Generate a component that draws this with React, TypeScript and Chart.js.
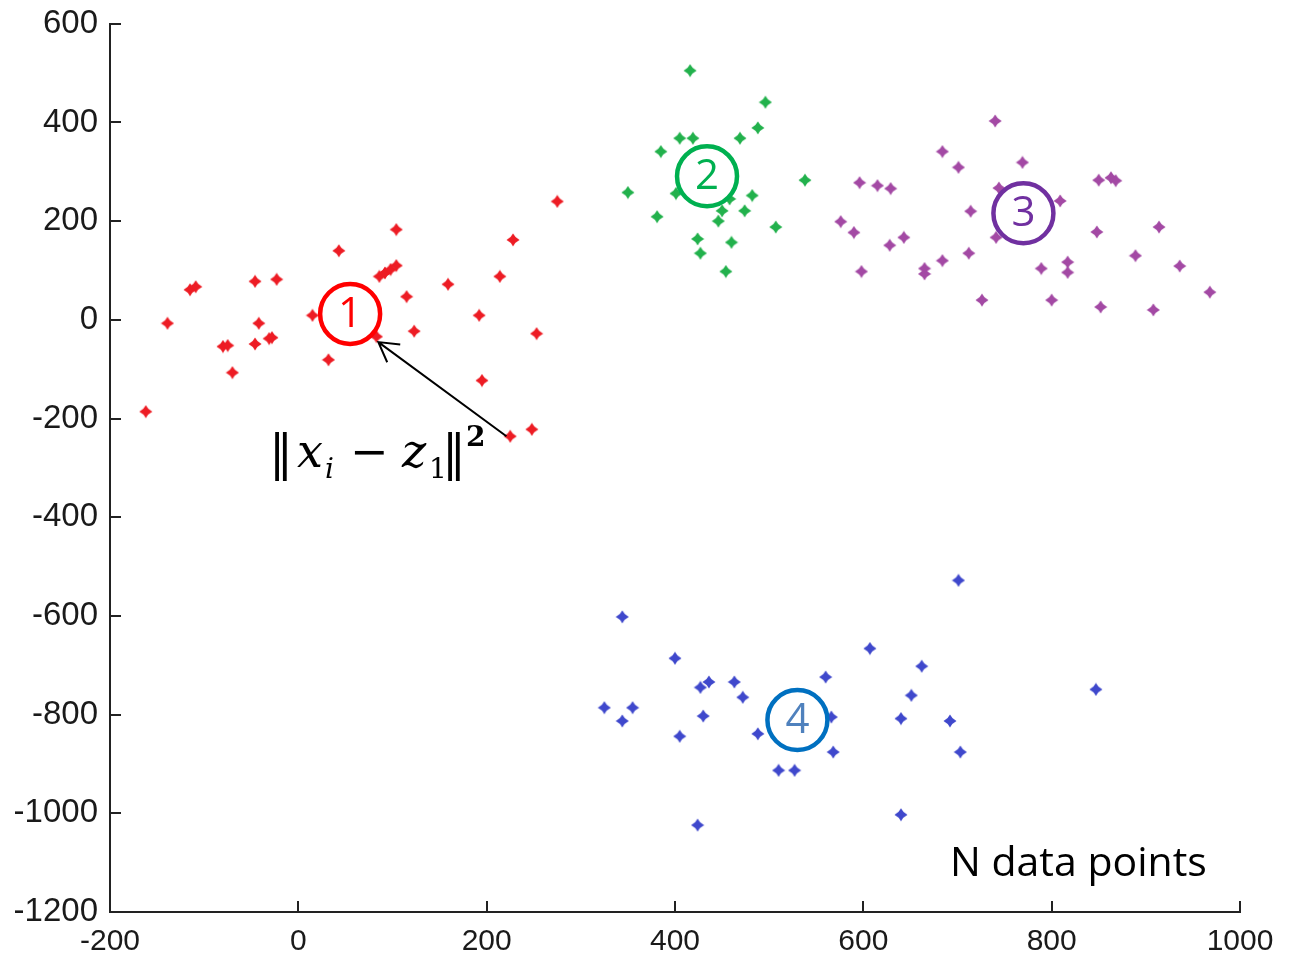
import React, { useEffect, useRef } from "react";
import { Chart, registerables } from "chart.js";

Chart.register(...registerables);

// ---- data ----
const cluster1X = [43, -46, -23, -115, -109, -139, 15, -42, -80, -75, -46, -31, -28, 32, -70, -162, 275, 104, 228, 86, 92, 98, 104, 214, 159, 115, 192, 123, 253, 83, 195, 248, 225];
const cluster1Y = [140, 78, 82, 61, 67, -7, 9, -7, -54, -52, -49, -38, -36, -81, -107, -186, 240, 183, 162, 88, 95, 102, 110, 88, 72, 47, 9, -23, -28, -34, -123, -222, -236];

const cluster2X = [416, 496, 488, 405, 419, 469, 385, 538, 350, 401, 482, 458, 450, 474, 381, 446, 507, 424, 460, 427, 454];
const cluster2Y = [505, 441, 389, 368, 368, 368, 341, 283, 258, 256, 252, 245, 221, 221, 209, 200, 188, 164, 157, 135, 98];

const cluster3X = [740, 684, 769, 701, 596, 615, 629, 744, 714, 576, 590, 643, 628, 741, 712, 684, 665, 665, 598, 726, 850, 863, 868, 809, 848, 914, 889, 936, 789, 817, 817, 800, 852, 908, 968];
const cluster3Y = [403, 341, 319, 309, 278, 272, 266, 267, 220, 199, 177, 167, 151, 167, 135, 120, 104, 93, 98, 40, 283, 288, 282, 241, 178, 188, 130, 109, 104, 117, 96, 40, 26, 20, 56];

const cluster4X = [344, 400, 427, 436, 463, 472, 560, 325, 355, 344, 430, 566, 405, 488, 568, 510, 527, 424, 701, 607, 662, 651, 847, 640, 692, 703, 640];
const cluster4Y = [-602, -686, -745, -734, -734, -765, -724, -786, -786, -813, -803, -805, -844, -839, -876, -913, -913, -1024, -528, -666, -702, -761, -749, -808, -813, -876, -1003];

const xTickValues = [-200, 0, 200, 400, 600, 800, 1000];
const yTickValues = [600, 400, 200, 0, -200, -400, -600, -800, -1000, -1200];

const clusterLabels = ["1", "2", "3", "4"];
const centroidX = [55, 434, 770, 530];
const centroidY = [12, 291, 216, -811];

const captionText = "N data points";

// ---- styles ----
const markerColors = ["#ED1C24", "#22B14C", "#A349A4", "#3F48CC"];
const ringColors = ["#FF0000", "#00B050", "#7030A0", "#0070C0"];
const digitColors = ["#FF0000", "#00B050", "#7030A0", "#4F81BD"];

function makeMarker(color: string): HTMLCanvasElement {
  const c = document.createElement("canvas");
  c.width = 14;
  c.height = 14;
  const g = c.getContext("2d")!;
  const m = 7;
  const r = 6.5;
  const k = 2.1;
  g.fillStyle = color;
  g.beginPath();
  g.moveTo(m, m - r);
  g.quadraticCurveTo(m + k, m - k, m + r, m);
  g.quadraticCurveTo(m + k, m + k, m, m + r);
  g.quadraticCurveTo(m - k, m + k, m - r, m);
  g.quadraticCurveTo(m - k, m - k, m, m - r);
  g.closePath();
  g.fill();
  return c;
}

const toPoints = (xs: number[], ys: number[]) => xs.map((x, i) => ({ x, y: ys[i] }));

const inwardTicksPlugin = {
  id: "inwardTicks",
  afterDraw(chart: any) {
    const { ctx, chartArea, scales } = chart;
    ctx.save();
    ctx.strokeStyle = "#222";
    ctx.lineWidth = 2;
    ctx.beginPath();
    for (const v of xTickValues) {
      const px = Math.round(scales.x.getPixelForValue(v));
      ctx.moveTo(px, chartArea.bottom);
      ctx.lineTo(px, chartArea.bottom - 11);
    }
    for (const v of yTickValues) {
      const py = Math.round(scales.y.getPixelForValue(v));
      ctx.moveTo(chartArea.left, py);
      ctx.lineTo(chartArea.left + 11, py);
    }
    ctx.stroke();
    ctx.restore();
  },
};

const annotationPlugin = {
  id: "annotations",
  afterDatasetsDraw(chart: any) {
    const { ctx, scales } = chart;
    const X = (v: number) => scales.x.getPixelForValue(v);
    const Y = (v: number) => scales.y.getPixelForValue(v);
    ctx.save();

    // centroid circles with numbers
    clusterLabels.forEach((lab, i) => {
      const cx = X(centroidX[i]);
      const cy = Y(centroidY[i]);
      ctx.beginPath();
      ctx.arc(cx, cy, 30, 0, Math.PI * 2);
      ctx.fillStyle = "#ffffff";
      ctx.fill();
      ctx.lineWidth = 4.5;
      ctx.strokeStyle = ringColors[i];
      ctx.stroke();
      ctx.fillStyle = digitColors[i];
      ctx.font = '42px "Open Sans", "Noto Sans", sans-serif';
      ctx.textAlign = "center";
      ctx.textBaseline = "middle";
      ctx.fillText(lab, cx, cy + 1);
    });

    // arrow from a point to centroid 1
    const tipX = X(85), tipY = Y(-45);
    const tailX = X(221), tailY = Y(-236);
    ctx.strokeStyle = "#000";
    ctx.lineWidth = 2;
    ctx.beginPath();
    ctx.moveTo(tailX, tailY);
    ctx.lineTo(tipX, tipY);
    const ang = Math.atan2(tailY - tipY, tailX - tipX);
    const hl = 22;
    const ha = (30 * Math.PI) / 180;
    ctx.moveTo(tipX + hl * Math.cos(ang - ha), tipY + hl * Math.sin(ang - ha));
    ctx.lineTo(tipX, tipY);
    ctx.lineTo(tipX + hl * Math.cos(ang + ha), tipY + hl * Math.sin(ang + ha));
    ctx.stroke();

    // formula ||x_i - z_1||^2
    const fx = X(-27);
    const fy = Y(-299);
    ctx.fillStyle = "#000";
    ctx.textAlign = "left";
    ctx.textBaseline = "alphabetic";
    const serif = '"DejaVu Serif", "Liberation Serif", serif';
    const piece = (t: string, dx: number, dy: number, font: string) => {
      ctx.font = font;
      ctx.fillText(t, fx + dx, fy + dy);
    };
    piece("\u2016", -4, 3, `48px ${serif}`);
    piece("x", 24, 0, `italic 46px ${serif}`);
    piece("i", 52, 11, `italic 28px ${serif}`);
    piece("\u2212", 77, 0, `46px ${serif}`);
    piece("z", 129, 0, `italic 46px ${serif}`);
    piece("1", 156, 11, `28px ${serif}`);
    piece("\u2016", 169, 3, `48px ${serif}`);
    piece("2", 193, -21, `bold 28px ${serif}`);

    // caption
    ctx.font = '41px "Open Sans", "Noto Sans", sans-serif';
    ctx.fillStyle = "#000";
    ctx.fillText(captionText, X(692), Y(-1127));

    ctx.restore();
  },
};

export default function App() {
  const canvasRef = useRef<HTMLCanvasElement | null>(null);

  useEffect(() => {
    const canvas = canvasRef.current;
    if (!canvas) return;
    const xs = [cluster1X, cluster2X, cluster3X, cluster4X];
    const ys = [cluster1Y, cluster2Y, cluster3Y, cluster4Y];
    const chart = new Chart(canvas, {
      type: "scatter",
      data: {
        datasets: xs.map((cx, i) => ({
          label: "Cluster " + clusterLabels[i],
          data: toPoints(cx, ys[i]),
          pointStyle: makeMarker(markerColors[i]) as any,
          backgroundColor: markerColors[i],
          borderColor: markerColors[i],
          pointRadius: 6,
        })),
      },
      options: {
        responsive: true,
        maintainAspectRatio: false,
        animation: false,
        layout: { padding: { left: 0, top: 16, right: 51, bottom: 0 } },
        plugins: { legend: { display: false }, tooltip: { enabled: false } },
        scales: {
          x: {
            type: "linear",
            min: -200,
            max: 1000,
            afterBuildTicks: (s: any) => {
              s.ticks = xTickValues.map((v) => ({ value: v }));
            },
            afterFit: (s: any) => {
              s.height = 45;
            },
            grid: { display: false },
            border: { display: true, color: "#222", width: 2 },
            ticks: {
              color: "#1a1a1a",
              padding: 4,
              maxRotation: 0,
              autoSkip: false,
              callback: (v: any) => String(v),
              font: { family: '"Liberation Sans Narrow", "Liberation Sans", Arial, sans-serif', size: 30 },
            },
          },
          y: {
            type: "linear",
            min: -1200,
            max: 600,
            afterBuildTicks: (s: any) => {
              s.ticks = yTickValues.slice().reverse().map((v) => ({ value: v }));
            },
            afterFit: (s: any) => {
              s.width = 110;
            },
            grid: { display: false },
            border: { display: true, color: "#222", width: 2 },
            ticks: {
              color: "#1a1a1a",
              padding: 4,
              autoSkip: false,
              callback: (v: any) => String(v),
              font: { family: '"Liberation Sans", Arial, sans-serif', size: 33 },
            },
          },
        },
      },
      plugins: [inwardTicksPlugin, annotationPlugin],
    });
    return () => chart.destroy();
  }, []);

  return (
    <div style={{ position: "fixed", left: 0, top: 0, width: 1291, height: 957, background: "#fff" }}>
      <canvas ref={canvasRef} />
    </div>
  );
}
